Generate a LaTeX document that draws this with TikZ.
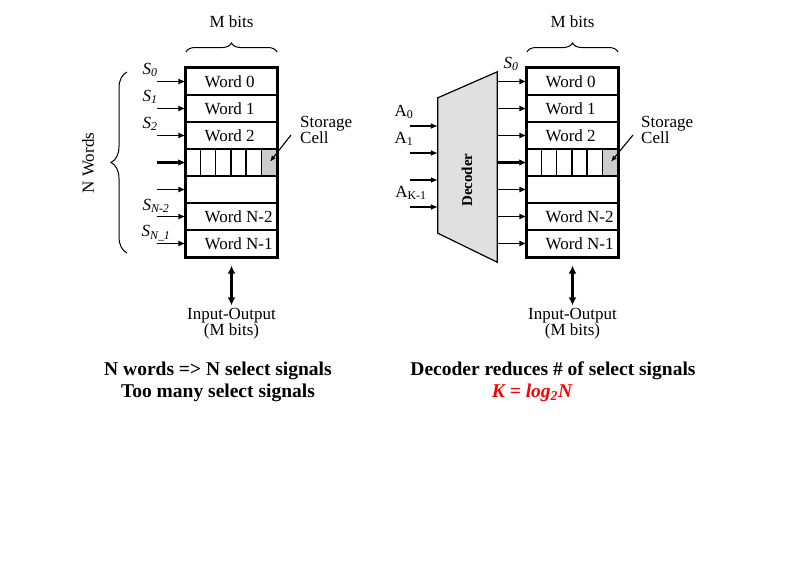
\documentclass[tikz,border=0pt]{standalone}
\usepackage{fontspec}
\setmainfont{Liberation Serif}
\usetikzlibrary{arrows.meta,positioning,decorations.pathreplacing}
\definecolor{cellgray}{RGB}{204,204,204}
\definecolor{decgray}{RGB}{224,224,224}
\tikzset{
  wordrow/.style={draw, line width=1.2pt, minimum width=91pt, minimum height=27pt, inner sep=0pt},
  cellbox/.style={draw, line width=1.2pt, fill=cellgray, minimum width=15.17pt, minimum height=27pt, inner sep=0pt},
  frame/.style={line width=3pt},
  sel/.style={line width=1.5pt, -{Latex[length=7pt,width=6pt]}},
  cellptr/.style={line width=1.1pt, -{Latex[length=6pt,width=5pt]}, shorten >=1pt},
  ioarrow/.style={line width=2.6pt, {Latex[length=8pt,width=8pt]}-{Latex[length=8pt,width=8pt]}},
  bitsbrace/.style={decorate, decoration={brace, amplitude=9pt}, line width=1pt},
  wordsbrace/.style={decorate, decoration={brace, amplitude=16pt}, line width=1pt},
  wordtxt/.style={inner sep=0pt},
  sigtxt/.style={inner sep=0pt, font=\fontsize{17}{17}\itshape},
  txt/.style={inner sep=0pt, align=left, font=\fontsize{17}{14}\selectfont},
  note/.style={inner sep=0pt, align=center, font=\fontsize{19.5}{22}\bfseries}
}
\begin{document}
\begin{tikzpicture}[x=1pt, y=-1pt, font=\fontsize{17}{16}\selectfont]
\useasboundingbox (0,0) rectangle (793,574);

% left: memory without decoder
\foreach \i in {0,...,6}
  \node[wordrow] (l\i) at (231.5,{81.5+27*\i}) {};
\foreach \i/\w in {0/Word 0,1/Word 1,2/Word 2,5/Word N-2,6/Word N-1}
  \node[wordtxt, right=19pt of l\i.west] (lw\i) {\w};
\foreach \c in {1,...,5}
  \draw[line width=1.2pt] ([xshift={\c*15.17pt}]l3.north west) -- ([xshift={\c*15.17pt}]l3.south west);
\node[cellbox, anchor=north east] (lcell) at (l3.north east) {};
\draw[frame] (l0.north west) rectangle (l6.south east);
\foreach \i in {0,...,6} {
  \coordinate (ls\i) at (157,{81.5+27*\i});
  \draw[sel] (ls\i) -- (l\i.west);
}
\draw[sel, line width=2.3pt] (ls3) -- (l3.west);
\node[sigtxt] (lS0) at (150,70) {S\textsubscript{0}};
\node[sigtxt] (lS1) at (150,97) {S\textsubscript{1}};
\node[sigtxt] (lS2) at (150,124) {S\textsubscript{2}};
\node[sigtxt] (lSn2) at (156,206) {S\textsubscript{N-2}};
\node[sigtxt] (lSn1) at (156,233) {S\textsubscript{N\_1}};
\draw[bitsbrace] (186,52) -- (277,52);
\node (lM) at (231.5,22) {M bits};
\draw[wordsbrace] (127,253) -- (127,72);
\node[rotate=90] (lN) at (88,163) {N Words};
\node[txt, anchor=west] (lsto) at (300,130) {Storage\\Cell};
\draw[cellptr] ([xshift=-9pt,yshift=-5pt]lsto.west) -- (lcell.center);
\node[align=center, inner sep=0pt] (lio) at (231.5,324) {Input-Output\\(M bits)};
\draw[ioarrow] ([yshift=-8pt]l6.south) -- ([yshift=3pt]lio.north);
\node[note] (lnote) at (218,382) {N words => N select signals\\Too many select signals};

% right: memory with decoder
\foreach \i in {0,...,6}
  \node[wordrow] (r\i) at (572.5,{81.5+27*\i}) {};
\foreach \i/\w in {0/Word 0,1/Word 1,2/Word 2,5/Word N-2,6/Word N-1}
  \node[wordtxt, right=19pt of r\i.west] (rw\i) {\w};
\foreach \c in {1,...,5}
  \draw[line width=1.2pt] ([xshift={\c*15.17pt}]r3.north west) -- ([xshift={\c*15.17pt}]r3.south west);
\node[cellbox, anchor=north east] (rcell) at (r3.north east) {};
\draw[frame] (r0.north west) rectangle (r6.south east);
\node[minimum width=59pt, minimum height=190pt, inner sep=0pt] (dec) at (467.5,167) {};
\draw[line width=1.2pt, fill=decgray] ([yshift=-26pt]dec.north west) -- (dec.north east)
  -- (dec.south east) -- ([yshift=29pt]dec.south west) -- cycle;
\node[rotate=90, font=\fontsize{15}{15}\bfseries] (dectxt) at (467,180) {Decoder};
\foreach \i in {0,...,6}
  \draw[sel] (r\i.west -| dec.east) -- (r\i.west);
\draw[sel, line width=2.3pt] (r3.west -| dec.east) -- (r3.west);
\foreach \i/\y in {0/126,1/153,2/180,3/207} {
  \coordinate (ai\i) at (410,\y);
  \draw[sel] (ai\i) -- (ai\i -| dec.west);
}
\node[txt] (lA0) at (404,112) {A\textsubscript{0}};
\node[txt] (lA1) at (404,139) {A\textsubscript{1}};
\node[txt] (lAk) at (411,193) {A\textsubscript{K-1}};
\node[sigtxt] (rS0) at (511,64) {S\textsubscript{0}};
\draw[bitsbrace] (527,52) -- (618,52);
\node (rM) at (572.5,22) {M bits};
\node[txt, anchor=west] (rsto) at (641,130) {Storage\\Cell};
\draw[cellptr] ([xshift=-8pt,yshift=-5pt]rsto.west) -- (rcell.center);
\node[align=center, inner sep=0pt] (rio) at (572.5,324) {Input-Output\\(M bits)};
\draw[ioarrow] ([yshift=-8pt]r6.south) -- ([yshift=3pt]rio.north);
\node[note] (rnote) at (553,371) {Decoder reduces \# of select signals};
\node[note, text=red, font=\fontsize{19.5}{22}\bfseries\itshape] (rform) at (532,393) {K = log\textsubscript{2}N};
\end{tikzpicture}
\end{document}
